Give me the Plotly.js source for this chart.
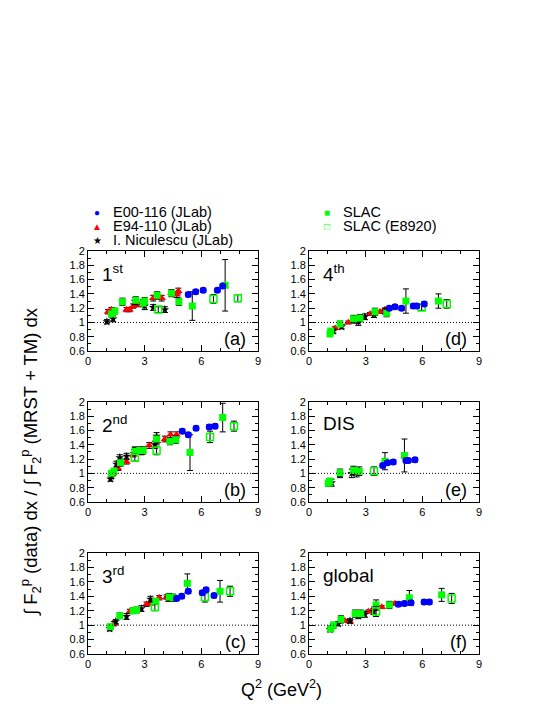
<!DOCTYPE html>
<html>
<head>
<meta charset="utf-8">
<script src="https://cdn.plot.ly/plotly-3.0.1.min.js"></script>
<style>
  html, body { margin: 0; padding: 0; background: #fff; }
  #chart { width: 545px; height: 705px; }
</style>
</head>
<body>
<div id="chart"></div>
<script>
// panels in order a, b, c (left column), d, e, f (right column)
const panelTags = ['(a)', '(b)', '(c)', '(d)', '(e)', '(f)'];
const panelNames = ['1<sup>st</sup>', '2<sup>nd</sup>', '3<sup>rd</sup>', '4<sup>th</sup>', 'DIS', 'global'];
const xTicks = [0, 3, 6, 9];

// E00-116 (JLab)
const e00Q = [[5.31, 5.7, 6.1, 6.85, 7.13], [4.99, 5.31, 5.72, 6.42, 6.73], [4.69, 4.96, 5.31, 6.05, 6.25, 6.67],
  [4.25, 4.55, 4.9, 5.52, 5.7, 6.1], [3.9, 4.15, 4.46, 5.13, 5.26, 5.61], [4.73, 5.05, 5.4, 6.09, 6.37]];
const e00R = [[1.39, 1.43, 1.45, 1.45, 1.51], [1.59, 1.54, 1.63, 1.65, 1.66], [1.37, 1.40, 1.47, 1.45, 1.49, 1.41],
  [1.20, 1.22, 1.20, 1.23, 1.23, 1.26], [1.11, 1.15, 1.16, 1.18, 1.18, 1.19], [1.29, 1.30, 1.31, 1.32, 1.32]];
const e00Err = [[0.03, 0.03, 0.03, 0.03, 0.03], [0.03, 0.03, 0.03, 0.03, 0.03], [0.03, 0.03, 0.03, 0.03, 0.03, 0.03],
  [0.03, 0.03, 0.03, 0.03, 0.03, 0.03], [0.03, 0.03, 0.03, 0.03, 0.03, 0.03], [0.03, 0.03, 0.03, 0.03, 0.03]];

// E94-110 (JLab)
const e94Q = [[1.06, 1.24, 2.04, 2.2, 2.39, 2.65, 3.45, 3.9, 4.42, 4.7, 4.78], [1.29, 1.59, 2.04, 2.39, 3.24, 3.66, 4.07, 4.37, 4.69],
  [1.38, 2.21, 3.1, 3.36, 3.77, 4.16], [1.38, 2.08, 2.61, 3.23, 3.76, 4.02], [], [1.9, 2.17, 2.52, 3.14, 3.44, 3.85, 4.55]];
const e94R = [[1.15, 1.18, 1.18, 1.18, 1.23, 1.25, 1.34, 1.34, 1.41, 1.39, 1.44], [0.99, 1.07, 1.16, 1.26, 1.39, 1.45, 1.48, 1.54, 1.54],
  [1.02, 1.19, 1.29, 1.31, 1.38, 1.39], [0.92, 1.00, 1.04, 1.12, 1.15, 1.18], [], [1.06, 1.05, 1.15, 1.19, 1.23, 1.25, 1.30]];
const e94Err = [[0.03, 0.03, 0.03, 0.03, 0.03, 0.03, 0.04, 0.04, 0.04, 0.04, 0.04], [0.03, 0.03, 0.03, 0.03, 0.04, 0.04, 0.04, 0.04, 0.04],
  [0.03, 0.03, 0.03, 0.03, 0.03, 0.03], [0.02, 0.02, 0.02, 0.02, 0.02, 0.02], [], [0.02, 0.02, 0.02, 0.02, 0.02, 0.02, 0.02]];

// I. Niculescu (JLab)
const nicQ = [[1.0, 1.33, 2.48, 3.0, 3.45, 4.07], [1.19, 1.24, 1.5, 1.68, 2.04, 2.48, 2.83, 3.54, 3.63],
  [1.15, 1.47, 2.04, 2.83, 3.31, 4.25], [1.29, 1.73, 2.44, 2.61, 2.96, 3.44, 4.02], [1.2, 1.64, 2.26, 2.52],
  [1.11, 1.55, 2.17, 2.61, 2.96, 3.41]];
const nicR = [[1.01, 1.05, 1.30, 1.23, 1.21, 1.18], [0.92, 0.96, 1.13, 1.22, 1.24, 1.32, 1.31, 1.40, 1.52],
  [0.95, 1.05, 1.12, 1.23, 1.36, 1.38], [0.88, 0.94, 1.04, 1.01, 1.08, 1.11, 1.16], [0.87, 0.99, 1.00, 1.01],
  [0.94, 1.02, 1.06, 1.13, 1.15, 1.19]];
const nicErr = [[0.03, 0.04, 0.05, 0.05, 0.04, 0.04], [0.03, 0.03, 0.04, 0.04, 0.04, 0.05, 0.05, 0.05, 0.05],
  [0.03, 0.03, 0.04, 0.04, 0.04, 0.05], [0.03, 0.03, 0.05, 0.05, 0.04, 0.04, 0.04], [0.05, 0.05, 0.06, 0.06],
  [0.03, 0.03, 0.03, 0.04, 0.04, 0.04]];

// SLAC
const slacQ = [[1.24, 1.42, 1.82, 2.53, 2.92, 3.0, 3.66, 4.42, 4.81, 5.52, 7.26], [1.24, 1.38, 1.72, 2.48, 2.74, 2.92, 3.63, 4.34, 4.65, 5.4, 7.13],
  [1.19, 1.68, 2.39, 2.57, 3.59, 4.3, 4.51, 5.26, 6.99], [1.11, 1.15, 1.64, 2.35, 2.7, 3.49, 4.11, 5.13, 6.85],
  [1.02, 1.08, 1.64, 2.35, 2.66, 4.02, 5.05], [1.15, 1.29, 1.69, 2.44, 2.74, 3.55, 4.25, 5.31, 7.02]];
const slacR = [[1.12, 1.16, 1.29, 1.31, 1.27, 1.30, 1.38, 1.41, 1.29, 1.23, 1.52], [1.00, 1.03, 1.15, 1.31, 1.32, 1.32, 1.48, 1.45, 1.47, 1.29, 1.78],
  [0.98, 1.13, 1.20, 1.21, 1.33, 1.39, 1.38, 1.58, 1.47], [0.84, 0.88, 0.98, 1.05, 1.06, 1.15, 1.13, 1.30, 1.30],
  [0.86, 0.89, 1.01, 1.04, 1.03, 1.17, 1.25], [0.95, 1.00, 1.08, 1.16, 1.16, 1.28, 1.28, 1.38, 1.42]];
const slacErr = [[0.04, 0.04, 0.05, 0.05, 0.05, 0.05, 0.05, 0.05, 0.05, 0.20, 0.36], [0.03, 0.04, 0.05, 0.05, 0.05, 0.05, 0.05, 0.05, 0.05, 0.25, 0.20],
  [0.03, 0.04, 0.04, 0.04, 0.04, 0.05, 0.05, 0.13, 0.15], [0.03, 0.03, 0.04, 0.05, 0.05, 0.05, 0.05, 0.17, 0.10],
  [0.04, 0.04, 0.05, 0.06, 0.06, 0.12, 0.23], [0.04, 0.04, 0.05, 0.05, 0.05, 0.07, 0.05, 0.10, 0.09]];

// SLAC (E8920)
const e89Q = [[3.72, 6.64, 7.93], [2.48, 3.63, 6.46, 7.73], [3.54, 6.19, 7.52], [5.96, 7.29], [3.44], [3.55, 7.55]];
const e89R = [[1.18, 1.33, 1.34], [1.22, 1.32, 1.51, 1.66], [1.25, 1.39, 1.47], [1.21, 1.26], [1.03], [1.19, 1.37]];
const e89Err = [[0.04, 0.06, 0.05], [0.05, 0.06, 0.08, 0.07], [0.05, 0.07, 0.07], [0.04, 0.06], [0.06], [0.07, 0.07]];

const green = '#00ff00';
const series = [
  { q: e94Q, r: e94R, e: e94Err, marker: { color: '#ff0000', symbol: 'triangle-up', size: 7.5 } },
  { q: nicQ, r: nicR, e: nicErr, marker: { color: '#000000', symbol: 'star', size: 6.5 } },
  { q: slacQ, r: slacR, e: slacErr, marker: { color: green, symbol: 'square', size: 7 } },
  { q: e89Q, r: e89R, e: e89Err, marker: { color: green, symbol: 'square-open', size: 7, line: { color: green, width: 1.5 } } },
  { q: e00Q, r: e00R, e: e00Err, marker: { color: '#0000ff', symbol: 'circle', size: 7 } }
];

const xDom = [[0.1615, 0.4734], [0.567, 0.879]];
const yDom = [[0.502, 0.644], [0.288, 0.430], [0.0723, 0.2156]];

const traces = [];
const layout = {
  width: 545, height: 705,
  margin: { l: 0, r: 0, t: 0, b: 0 },
  paper_bgcolor: '#fff', plot_bgcolor: '#fff',
  showlegend: false,
  font: { family: 'Liberation Sans, Arial, sans-serif', color: '#000' },
  shapes: [], annotations: []
};

for (let p = 0; p < 6; p++) {
  const col = Math.floor(p / 3), row = p % 3;
  const sfx = p === 0 ? '' : String(p + 1);
  const xa = 'x' + sfx, ya = 'y' + sfx;
  series.forEach(s => {
    traces.push({
      x: s.q[p], y: s.r[p], xaxis: xa, yaxis: ya,
      type: 'scatter', mode: 'markers',
      marker: s.marker,
      error_y: { type: 'data', array: s.e[p], color: '#000', thickness: 1, width: 3 },
      hoverinfo: 'x+y'
    });
  });
  layout['xaxis' + sfx] = {
    domain: xDom[col], anchor: ya, range: [0, 9],
    tickvals: xTicks, ticks: 'inside', ticklen: 6, tickcolor: '#000',
    minor: { dtick: 1, ticks: 'inside', ticklen: 3, tickcolor: '#000' },
    showline: true, linecolor: '#000', linewidth: 1, mirror: 'ticks',
    showgrid: false, zeroline: false, tickfont: { size: 11 }
  };
  layout['yaxis' + sfx] = {
    domain: yDom[row], anchor: xa, range: [0.6, 2.0],
    dtick: 0.2, tick0: 0, ticks: 'inside', ticklen: 6, tickcolor: '#000',
    minor: { dtick: 0.1, ticks: 'inside', ticklen: 3, tickcolor: '#000' },
    showline: true, linecolor: '#000', linewidth: 1, mirror: 'ticks',
    showgrid: false, zeroline: false, tickfont: { size: 11 }
  };
  layout.shapes.push({ type: 'line', xref: xa, yref: ya, x0: 0, x1: 9, y0: 1, y1: 1,
    line: { color: '#000', width: 1, dash: '1px,2px' } });
  layout.annotations.push({ xref: xa + ' domain', yref: ya + ' domain', x: 0.07, y: 0.78,
    xanchor: 'left', yanchor: 'middle', showarrow: false, text: panelNames[p], font: { size: 19 } });
  layout.annotations.push({ xref: xa + ' domain', yref: ya + ' domain', x: 0.94, y: 0.12,
    xanchor: 'right', yanchor: 'middle', showarrow: false, text: panelTags[p], font: { size: 18 } });
}

// axis titles
layout.annotations.push({ xref: 'paper', yref: 'paper', x: 0.055, y: 0.346, textangle: -90,
  xanchor: 'center', yanchor: 'middle', showarrow: false, font: { size: 18.5 },
  text: '\u222B F<sub>2</sub><sup>p</sup> (data) dx / \u222B F<sub>2</sub><sup>p</sup> (MRST + TM) dx' });
layout.annotations.push({ xref: 'paper', yref: 'paper', x: 0.517, y: 0.024, showarrow: false,
  xanchor: 'center', yanchor: 'middle', font: { size: 18 }, text: 'Q<sup>2</sup> (GeV<sup>2</sup>)' });

// legend drawn as text
const legendItems = [
  { sym: '\u25CF', color: '#0000ff', label: 'E00-116 (JLab)', x: 97, y: 212 },
  { sym: '\u25B2', color: '#ff0000', label: 'E94-110 (JLab)', x: 97, y: 226 },
  { sym: '\u2605', color: '#000000', label: 'I. Niculescu (JLab)', x: 97, y: 240 },
  { sym: '\u25A0', color: green, label: 'SLAC', x: 327, y: 212 },
  { sym: '\u25A1', color: green, label: 'SLAC (E8920)', x: 327, y: 226 }
];
legendItems.forEach(it => {
  layout.annotations.push({ xref: 'paper', yref: 'paper', x: it.x / 545, y: 1 - it.y / 705,
    xanchor: 'center', yanchor: 'middle', showarrow: false, text: it.sym,
    font: { size: 10, color: it.color } });
  layout.annotations.push({ xref: 'paper', yref: 'paper', x: (it.x + 14) / 545, y: 1 - it.y / 705,
    xanchor: 'left', yanchor: 'middle', showarrow: false, text: it.label, font: { size: 14.5 } });
});

Plotly.newPlot('chart', traces, layout, { displayModeBar: false, staticPlot: true });
</script>
</body>
</html>
